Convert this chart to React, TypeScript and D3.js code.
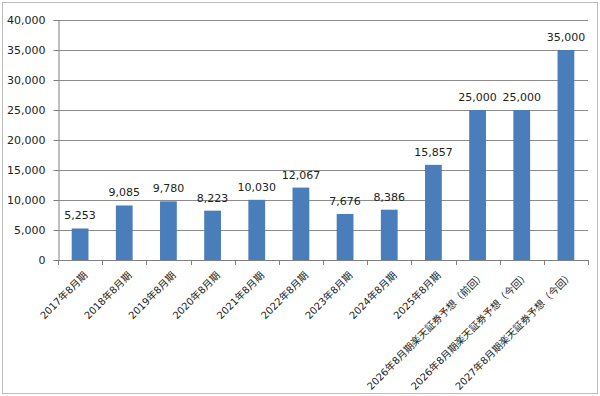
import * as d3 from "d3";
import React, {useEffect, useRef} from "react";

const categories = [
  "2017年8月期",
  "2018年8月期",
  "2019年8月期",
  "2020年8月期",
  "2021年8月期",
  "2022年8月期",
  "2023年8月期",
  "2024年8月期",
  "2025年8月期",
  "2026年8月期楽天証券予想（前回）",
  "2026年8月期楽天証券予想（今回）",
  "2027年8月期楽天証券予想（今回）",
];
const values = [5253, 9085, 9780, 8223, 10030, 12067, 7676, 8386, 15857, 25000, 25000, 35000];
const yTicks = [0, 5000, 10000, 15000, 20000, 25000, 30000, 35000, 40000];

const FONT = "'DejaVu Sans', Verdana, 'Noto Sans CJK JP', sans-serif";

const App: React.FC = () => {
  const ref = useRef<SVGSVGElement | null>(null);

  useEffect(() => {
    const width = 600;
    const height = 396;
    const margin = {top: 20, right: 12, bottom: 136, left: 58};
    const svg = d3.select(ref.current);
    svg.selectAll("*").remove();
    svg.attr("width", width).attr("height", height);

    // outer frame
    svg.append("rect")
      .attr("x", 2.5).attr("y", 2.5)
      .attr("width", width - 5).attr("height", height - 5)
      .attr("fill", "#fff")
      .attr("stroke", "#bdbdbd");

    const x = d3.scaleBand()
      .domain(categories)
      .range([margin.left, width - margin.right])
      .paddingInner(0.62)
      .paddingOuter(0.31);

    const y = d3.scaleLinear()
      .domain([0, 40000])
      .range([height - margin.bottom, margin.top]);

    const fmt = d3.format(",");

    // gridlines
    svg.append("g")
      .selectAll("line")
      .data(yTicks.filter((t) => t !== 0))
      .enter()
      .append("line")
      .attr("x1", margin.left)
      .attr("x2", width - margin.right)
      .attr("y1", (d) => Math.round(y(d)) + 0.5)
      .attr("y2", (d) => Math.round(y(d)) + 0.5)
      .attr("stroke", "#8c8c8c")
      .attr("stroke-width", 1);

    // bars
    svg.append("g")
      .selectAll("rect")
      .data(values)
      .enter()
      .append("rect")
      .attr("x", (_, i) => x(categories[i])!)
      .attr("y", (d) => y(d))
      .attr("width", x.bandwidth())
      .attr("height", (d) => y(0) - y(d))
      .attr("fill", "#4a7ebb");

    // value labels
    svg.append("g")
      .selectAll("text")
      .data(values)
      .enter()
      .append("text")
      .attr("x", (_, i) => x(categories[i])! + x.bandwidth() / 2)
      .attr("y", (d) => y(d) - 9)
      .attr("text-anchor", "middle")
      .attr("fill", "#222")
      .style("font-family", FONT)
      .style("font-size", "11px")
      .text((d) => fmt(d));

    // y axis
    const yAxis = svg.append("g")
      .attr("transform", `translate(${margin.left + 0.5}, 0)`)
      .call(d3.axisLeft(y).tickValues(yTicks).tickFormat((d) => fmt(d as number)).tickSize(5).tickPadding(8));
    yAxis.select(".domain").attr("stroke", "#808080");
    yAxis.selectAll(".tick line").attr("stroke", "#808080");
    yAxis.selectAll(".tick text")
      .attr("fill", "#222")
      .style("font-family", FONT)
      .style("font-size", "11px");

    // x axis line + boundary ticks
    const step = x.step();
    const bounds = d3.range(categories.length + 1).map((i) => margin.left + i * step);
    const xg = svg.append("g");
    xg.append("line")
      .attr("x1", margin.left)
      .attr("x2", width - margin.right)
      .attr("y1", Math.round(y(0)) + 0.5)
      .attr("y2", Math.round(y(0)) + 0.5)
      .attr("stroke", "#808080");
    xg.selectAll(".bt")
      .data(bounds)
      .enter()
      .append("line")
      .attr("x1", (d) => Math.round(d) + 0.5)
      .attr("x2", (d) => Math.round(d) + 0.5)
      .attr("y1", y(0))
      .attr("y2", y(0) + 5)
      .attr("stroke", "#808080");

    // x labels, rotated
    xg.selectAll(".lbl")
      .data(categories)
      .enter()
      .append("text")
      .attr("transform", (d) => `translate(${x(d)! + x.bandwidth() / 2 + 8}, ${y(0) + 16}) rotate(-45)`)
      .attr("text-anchor", "end")
      .attr("fill", "#222")
      .style("font-family", FONT)
      .style("font-size", "10px")
      .text((d) => d);

    return () => {
      svg.selectAll("*").remove();
    };
  }, []);

  return <svg ref={ref} style={{position: "absolute", left: 0, top: 0}} />;
};

export default App;
